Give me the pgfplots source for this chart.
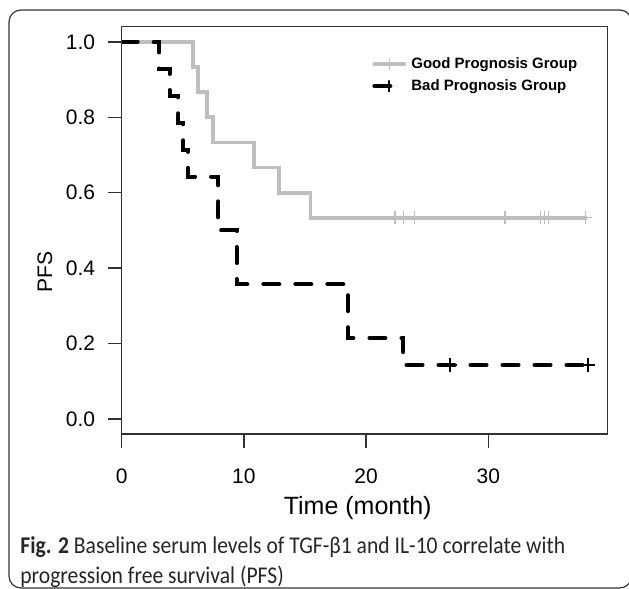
\documentclass[border=0pt]{standalone}
\usepackage{pgfplots}
\pgfplotsset{compat=1.18}
\usepackage{fontspec}
\setmainfont{Liberation Sans}
\newfontfamily\capfont[FakeStretch=0.9]{Carlito}
\definecolor{goodgray}{RGB}{190,190,190}
\definecolor{boxcol}{RGB}{50,50,50}

\tikzset{
  gooddraw/.style={goodgray, line width=1.9pt, line cap=round, line join=miter},
  baddraw/.style={black, line width=2pt, line cap=round, line join=miter, dash pattern=on 8pt off 8pt},
  goodmark/.style={goodgray, line width=0.6pt},
  badmark/.style={black, line width=0.9pt},
}

\begin{document}
\begin{tikzpicture}
% 1 px of the reference = 0.5pt; axis corner (0,0) sits at px (121.7,434)
\useasboundingbox (-60.85pt,-77.5pt) rectangle (253.65pt,217pt);
\draw[boxcol, line width=0.6pt, rounded corners=6pt] (-56.35pt,-77pt) rectangle (255pt,212pt);

\begin{axis}[
  scale only axis,
  width=243pt, height=203.6pt,
  xmin=0, xmax=39.77, ymin=-0.04, ymax=1.04,
  xtick={0,10,20,30}, xticklabels={0,10,20,30},
  ytick={0,0.2,0.4,0.6,0.8,1}, yticklabels={0.0,0.2,0.4,0.6,0.8,1.0},
  xtick pos=left, ytick pos=left,
  tick align=outside, major tick length=7pt,
  tick style={line width=0.7pt, draw=boxcol},
  axis line style={line width=0.7pt, draw=boxcol},
  tick label style={font=\fontsize{10.5}{12}\selectfont},
  xticklabel style={yshift=-7pt},
  yticklabel style={xshift=-2.8pt},
  legend style={at={(rel axis cs:0.515,0.9314)}, anchor=north west,
    draw=none, fill=none, inner sep=0pt, row sep=2pt, column sep=1.5pt,
    font=\bfseries\fontsize{7.5}{9}\selectfont,
    nodes={inner sep=1pt, text height=5.5pt, text depth=1.5pt}},
  legend cell align=left,
]
% Good prognosis group (n=15)
\addplot[gooddraw, const plot,
  legend image code/.code={\draw[gooddraw] (0pt,0pt)--(15pt,0pt);
    \draw[goodmark] (7.5pt,-2.7pt)--(7.5pt,2.7pt);}]
  coordinates {
  (0,1) (5.86,0.9333) (6.27,0.8667) (6.95,0.8) (7.5,0.7333)
  (10.85,0.6667) (12.87,0.6) (15.45,0.5333) (37.97,0.5333)
};
\addlegendentry{Good Prognosis Group}
% Bad prognosis group (n=14)
\addplot[baddraw, const plot,
  legend image code/.code={\draw[baddraw] (0pt,0pt)--(15pt,0pt);
    \draw[badmark] (7.35pt,-2.7pt)--(7.35pt,2.7pt);}]
  coordinates {
  (0,1) (3.06,0.9286) (3.92,0.8571) (4.63,0.7857) (5.04,0.7143)
  (5.4,0.6429) (7.9,0.5) (9.4,0.3571) (18.55,0.2143) (23.05,0.1429)
  (38.13,0.1429)
};
\addlegendentry{Bad Prognosis Group}
% censored observations
\addplot[only marks, mark=+, mark size=3.25pt, mark options={goodmark}, forget plot]
  coordinates {
  (22.37,0.5333) (23.04,0.5333) (23.94,0.5333) (31.37,0.5333)
  (34.29,0.5333) (34.58,0.5333) (34.91,0.5333) (37.97,0.5333)
};
\addplot[only marks, mark=+, mark size=3.6pt, mark options={badmark}, forget plot]
  coordinates {(26.87,0.1429) (38.13,0.1429)};
\end{axis}

\node[font=\fontsize{10.5}{12}\selectfont, rotate=90] at (-38.35pt,81pt) {PFS};
\node[font=\fontsize{12.5}{14}\selectfont] at (118pt,-37pt) {Time (month)};
\node[anchor=north west, align=left, inner sep=0pt, text=black!85,
  font=\capfont\fontsize{12}{15}\selectfont] at (-50.85pt,-51pt)
  {{\bfseries Fig. 2} Baseline serum levels of TGF-β1 and IL-10 correlate with\\
   progression free survival (PFS)};
\end{tikzpicture}
\end{document}
